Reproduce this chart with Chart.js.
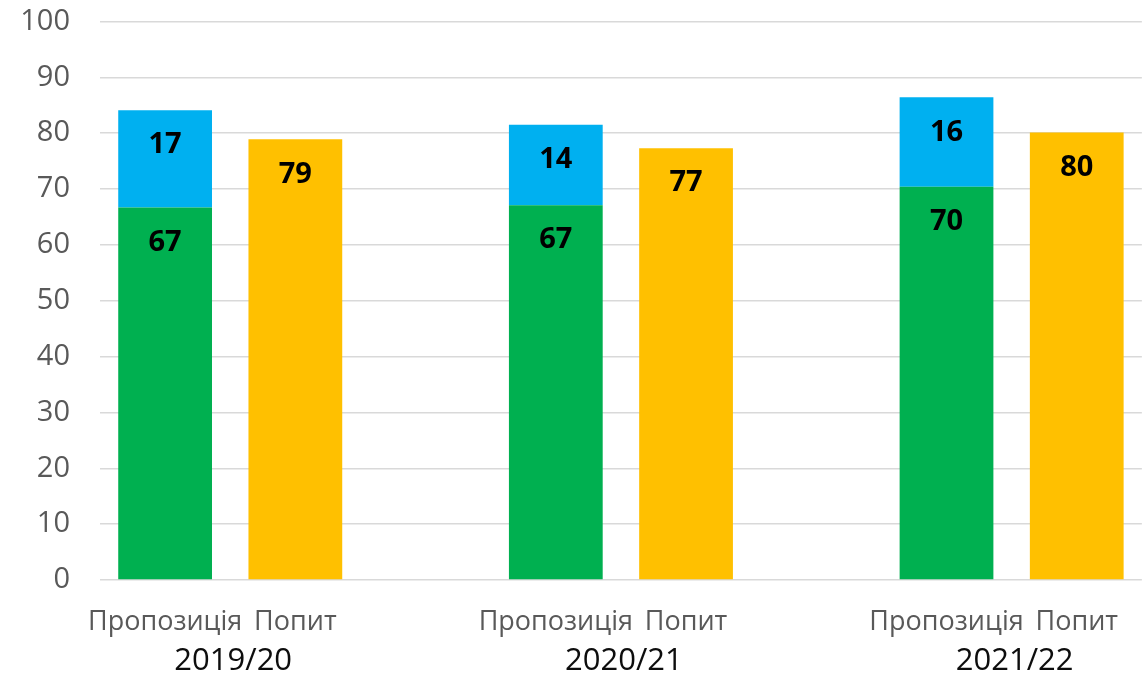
<!DOCTYPE html>
<html>
<head>
<meta charset="utf-8">
<script src="https://cdn.jsdelivr.net/npm/chart.js@4/dist/chart.umd.min.js"></script>
<style>
  html, body { margin: 0; padding: 0; background: #fff; }
  #wrap { width: 1144px; height: 676px; position: relative; }
</style>
</head>
<body>
<div id="wrap"><canvas id="chart"></canvas></div>
<script>
// values
const years = ['2019/20', '2020/21', '2021/22'];
const groupLabels = ['Пропозиція', 'Попит'];
const supplyBase = [66.7, 67.1, 70.4];   // green
const supplyExtra = [17.4, 14.4, 16.0];  // blue
const demand = [78.9, 77.3, 80.1];       // yellow
const yTicks = [0, 10, 20, 30, 40, 50, 60, 70, 80, 90, 100];

const FONT = '"Open Sans", sans-serif';

// 8 slots: two bars per year, one blank slot between years
const labels = [];
const green = [], blue = [], yellow = [];
years.forEach((y, i) => {
  labels.push(groupLabels[0], groupLabels[1]);
  green.push(supplyBase[i], null);
  blue.push(supplyExtra[i], null);
  yellow.push(null, demand[i]);
  if (i < years.length - 1) {
    labels.push('');
    green.push(null); blue.push(null); yellow.push(null);
  }
});

const barLabels = {
  id: 'barLabels',
  afterDatasetsDraw(chart) {
    const ctx = chart.ctx;
    ctx.save();
    ctx.font = 'bold 29px ' + FONT;
    ctx.fillStyle = '#000';
    ctx.textAlign = 'center';
    ctx.textBaseline = 'middle';
    chart.data.datasets.forEach((ds, di) => {
      chart.getDatasetMeta(di).data.forEach((el, i) => {
        const v = ds.data[i];
        if (v == null) return;
        ctx.fillText(Math.round(v), el.x, el.y + 35);
      });
    });
    ctx.restore();
  }
};

const yearLabels = {
  id: 'yearLabels',
  afterDraw(chart) {
    const ctx = chart.ctx;
    const xs = chart.scales.x;
    ctx.save();
    ctx.font = '31px ' + FONT;
    ctx.fillStyle = '#0d0d0d';
    ctx.textAlign = 'center';
    ctx.textBaseline = 'middle';
    years.forEach((y, i) => {
      const a = xs.getPixelForValue(i * 3);
      const b = xs.getPixelForValue(i * 3 + 1);
      ctx.fillText(y, (a + b) / 2 + 3, 661);
    });
    ctx.restore();
  }
};

new Chart(document.getElementById('chart'), {
  type: 'bar',
  data: {
    labels: labels,
    datasets: [
      { label: 'base', data: green, backgroundColor: '#00B050' },
      { label: 'extra', data: blue, backgroundColor: '#00B0F0' },
      { label: 'demand', data: yellow, backgroundColor: '#FFC000' }
    ]
  },
  options: {
    responsive: true,
    maintainAspectRatio: false,
    animation: false,
    barPercentage: 0.72,
    categoryPercentage: 1,
    layout: { padding: { top: 0, right: 0, left: 0, bottom: 0 } },
    plugins: {
      legend: { display: false },
      tooltip: { enabled: false }
    },
    scales: {
      x: {
        stacked: true,
        grid: { display: false, drawTicks: false },
        border: { display: false },
        ticks: {
          color: '#595959',
          font: { family: FONT, size: 27 },
          padding: 26,
          maxRotation: 0,
          autoSkip: false
        },
        afterFit(s) { s.height = 96; }
      },
      y: {
        stacked: true,
        min: 0,
        max: 100,
        afterBuildTicks(s) { s.ticks = yTicks.map(v => ({ value: v })); },
        grid: { color: '#D9D9D9', lineWidth: 1.5, drawTicks: true, tickLength: 26, tickColor: 'rgba(0,0,0,0)' },
        border: { display: false },
        ticks: {
          color: '#595959',
          font: { family: FONT, size: 29 },
          padding: 4
        },
        afterFit(s) { s.width = 100; }
      }
    }
  },
  plugins: [barLabels, yearLabels]
});
</script>
</body>
</html>
